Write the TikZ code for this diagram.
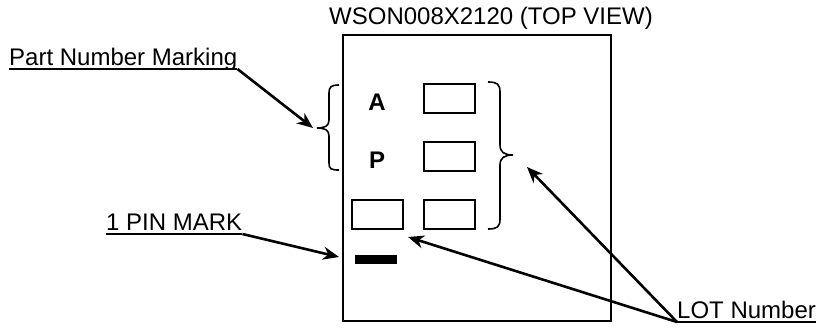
\documentclass[tikz,border=0pt]{standalone}
\usepackage{fontspec}
\setmainfont{Liberation Sans}
\usetikzlibrary{arrows.meta}
\begin{document}
\begin{tikzpicture}[x=1pt,y=-1pt,
  lbl/.style={inner sep=0pt,font=\fontsize{24}{28}\selectfont},
  letter/.style={inner sep=0pt,font=\fontsize{24}{28}\selectfont\bfseries},
  cell/.style={draw,line width=2.2pt,minimum width=51pt,minimum height=29pt,inner sep=0pt},
  ptr/.style={line width=2.6pt,-{Stealth[length=16pt,width=13pt,inset=5pt]}},
  brace/.style={line width=1.6pt},
  uline/.style={line width=2pt}]
\useasboundingbox (0,0) rectangle (818,329);
% package outline
\node[draw,line width=2.2pt,minimum width=268pt,minimum height=286pt,inner sep=0pt] (pkg) at (477,178) {};
\node[lbl,anchor=base] (title) at (491,25) {WSON008X2120 (TOP VIEW)};
% marking letters
\node[letter,anchor=base] (A) at (377,110) {A};
\node[letter,anchor=base] (P) at (377,168) {P};
% lot cells
\node[cell] (c1) at (449.5,98.5) {};
\node[cell] (c2) at (449.5,156.5) {};
\node[cell] (c3) at (449.5,214.5) {};
\node[cell] (c4) at (377.5,214.5) {};
% pin mark
\node[fill=black,minimum width=42pt,minimum height=9pt,inner sep=0pt] (pin) at (376,259.5) {};
% braces
\coordinate (lt) at (317,128);
\coordinate (rt) at (513,155);
\draw[brace] (339,85) .. controls (331,85) and (329,87) .. (329,93) -- (329,120)
  .. controls (329,126) and (325,128) .. (lt)
  .. controls (325,128) and (329,130) .. (329,136) -- (329,163)
  .. controls (329,169) and (331,170) .. (339,170);
\draw[brace] (488,82) .. controls (497,82) and (500,84) .. (500,92) -- (500,145)
  .. controls (500,152) and (504,155) .. (rt)
  .. controls (504,155) and (500,158) .. (500,165) -- (500,219)
  .. controls (500,227) and (497,229) .. (488,229);
% labels
\node[lbl,anchor=base west] (pn) at (9,65) {Part Number Marking};
\node[lbl,anchor=base west] (pm) at (106,230) {1 PIN MARK};
\node[lbl,anchor=base west] (lot) at (677,318) {LOT Number};
\draw[uline] ([yshift=-4pt]pn.base west) -- ([yshift=-4pt]pn.base east);
\draw[uline] ([yshift=-4pt]pm.base west) -- ([yshift=-4pt]pm.base east);
\draw[uline] ([yshift=-4pt]lot.base west) -- ([yshift=-4pt]lot.base east);
% pointers
\coordinate (pnTip) at (313,128);
\coordinate (pmTip) at (339,257);
\coordinate (lotTipA) at (408,237);
\coordinate (lotTipB) at (527,167);
\draw[ptr] ([yshift=-4pt]pn.base east) -- (pnTip);
\draw[ptr] ([yshift=-4pt]pm.base east) -- (pmTip);
\draw[ptr] ([yshift=-4pt]lot.base west) -- (lotTipA);
\draw[ptr] ([yshift=-4pt]lot.base west) -- (lotTipB);
\end{tikzpicture}
\end{document}
